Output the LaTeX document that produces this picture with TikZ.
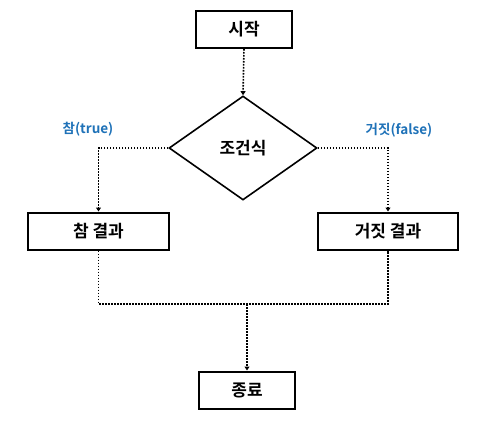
\documentclass[tikz,border=0pt]{standalone}
\usepackage{fontspec}
\setmainfont{Noto Sans CJK KR}
\newfontfamily\kbold{Noto Sans CJK KR Bold}
\usetikzlibrary{shapes.geometric,arrows.meta}
\definecolor{lblue}{HTML}{1F72B8}
\tikzset{
  box/.style={draw,line width=2pt,minimum width=#1,minimum height=37pt,inner sep=0pt,font=\fontsize{17}{20}\kbold},
  cond/.style={draw,line width=1.6pt,diamond,minimum width=148pt,minimum height=104pt,inner sep=0pt,aspect=1.42,font=\fontsize{17}{20}\kbold},
  flow/.style={line width=1.6pt,dash pattern=on 1.6pt off 1.4pt},
  tip/.style={-{Triangle[width=5pt,length=4pt]}},
  lbl/.style={text=lblue,font=\fontsize{13.5}{16}\kbold}
}
\begin{document}
\begin{tikzpicture}[x=1pt,y=-1pt]
\useasboundingbox (0,0) rectangle (491,431);
\node[box=96pt] (start) at (244,29.5) {시작};
\node[cond] (c) at (243,148) {조건식};
\node[box=141pt] (t) at (98.5,231) {참 결과};
\node[box=140pt] (f) at (388,231) {거짓 결과};
\node[box=96pt] (e) at (247,390) {종료};
\node[lbl] (tl) at (88,129) {참(true)};
\node[lbl] (fl) at (399,130.5) {거짓(false)};
\coordinate (tm) at (98.5,304);
\coordinate (fm) at (388,304);
\coordinate (mm) at (247,304);
\draw[flow,tip] (start.south) -- (c.north);
\draw[flow,tip] (c.west) -| (t.north);
\draw[flow,tip] (c.east) -| (f.north);
\draw[flow] (t.south) -- (tm) -- (fm) -- (f.south);
\draw[flow,tip] (mm) -- (e.north);
\end{tikzpicture}
\end{document}
